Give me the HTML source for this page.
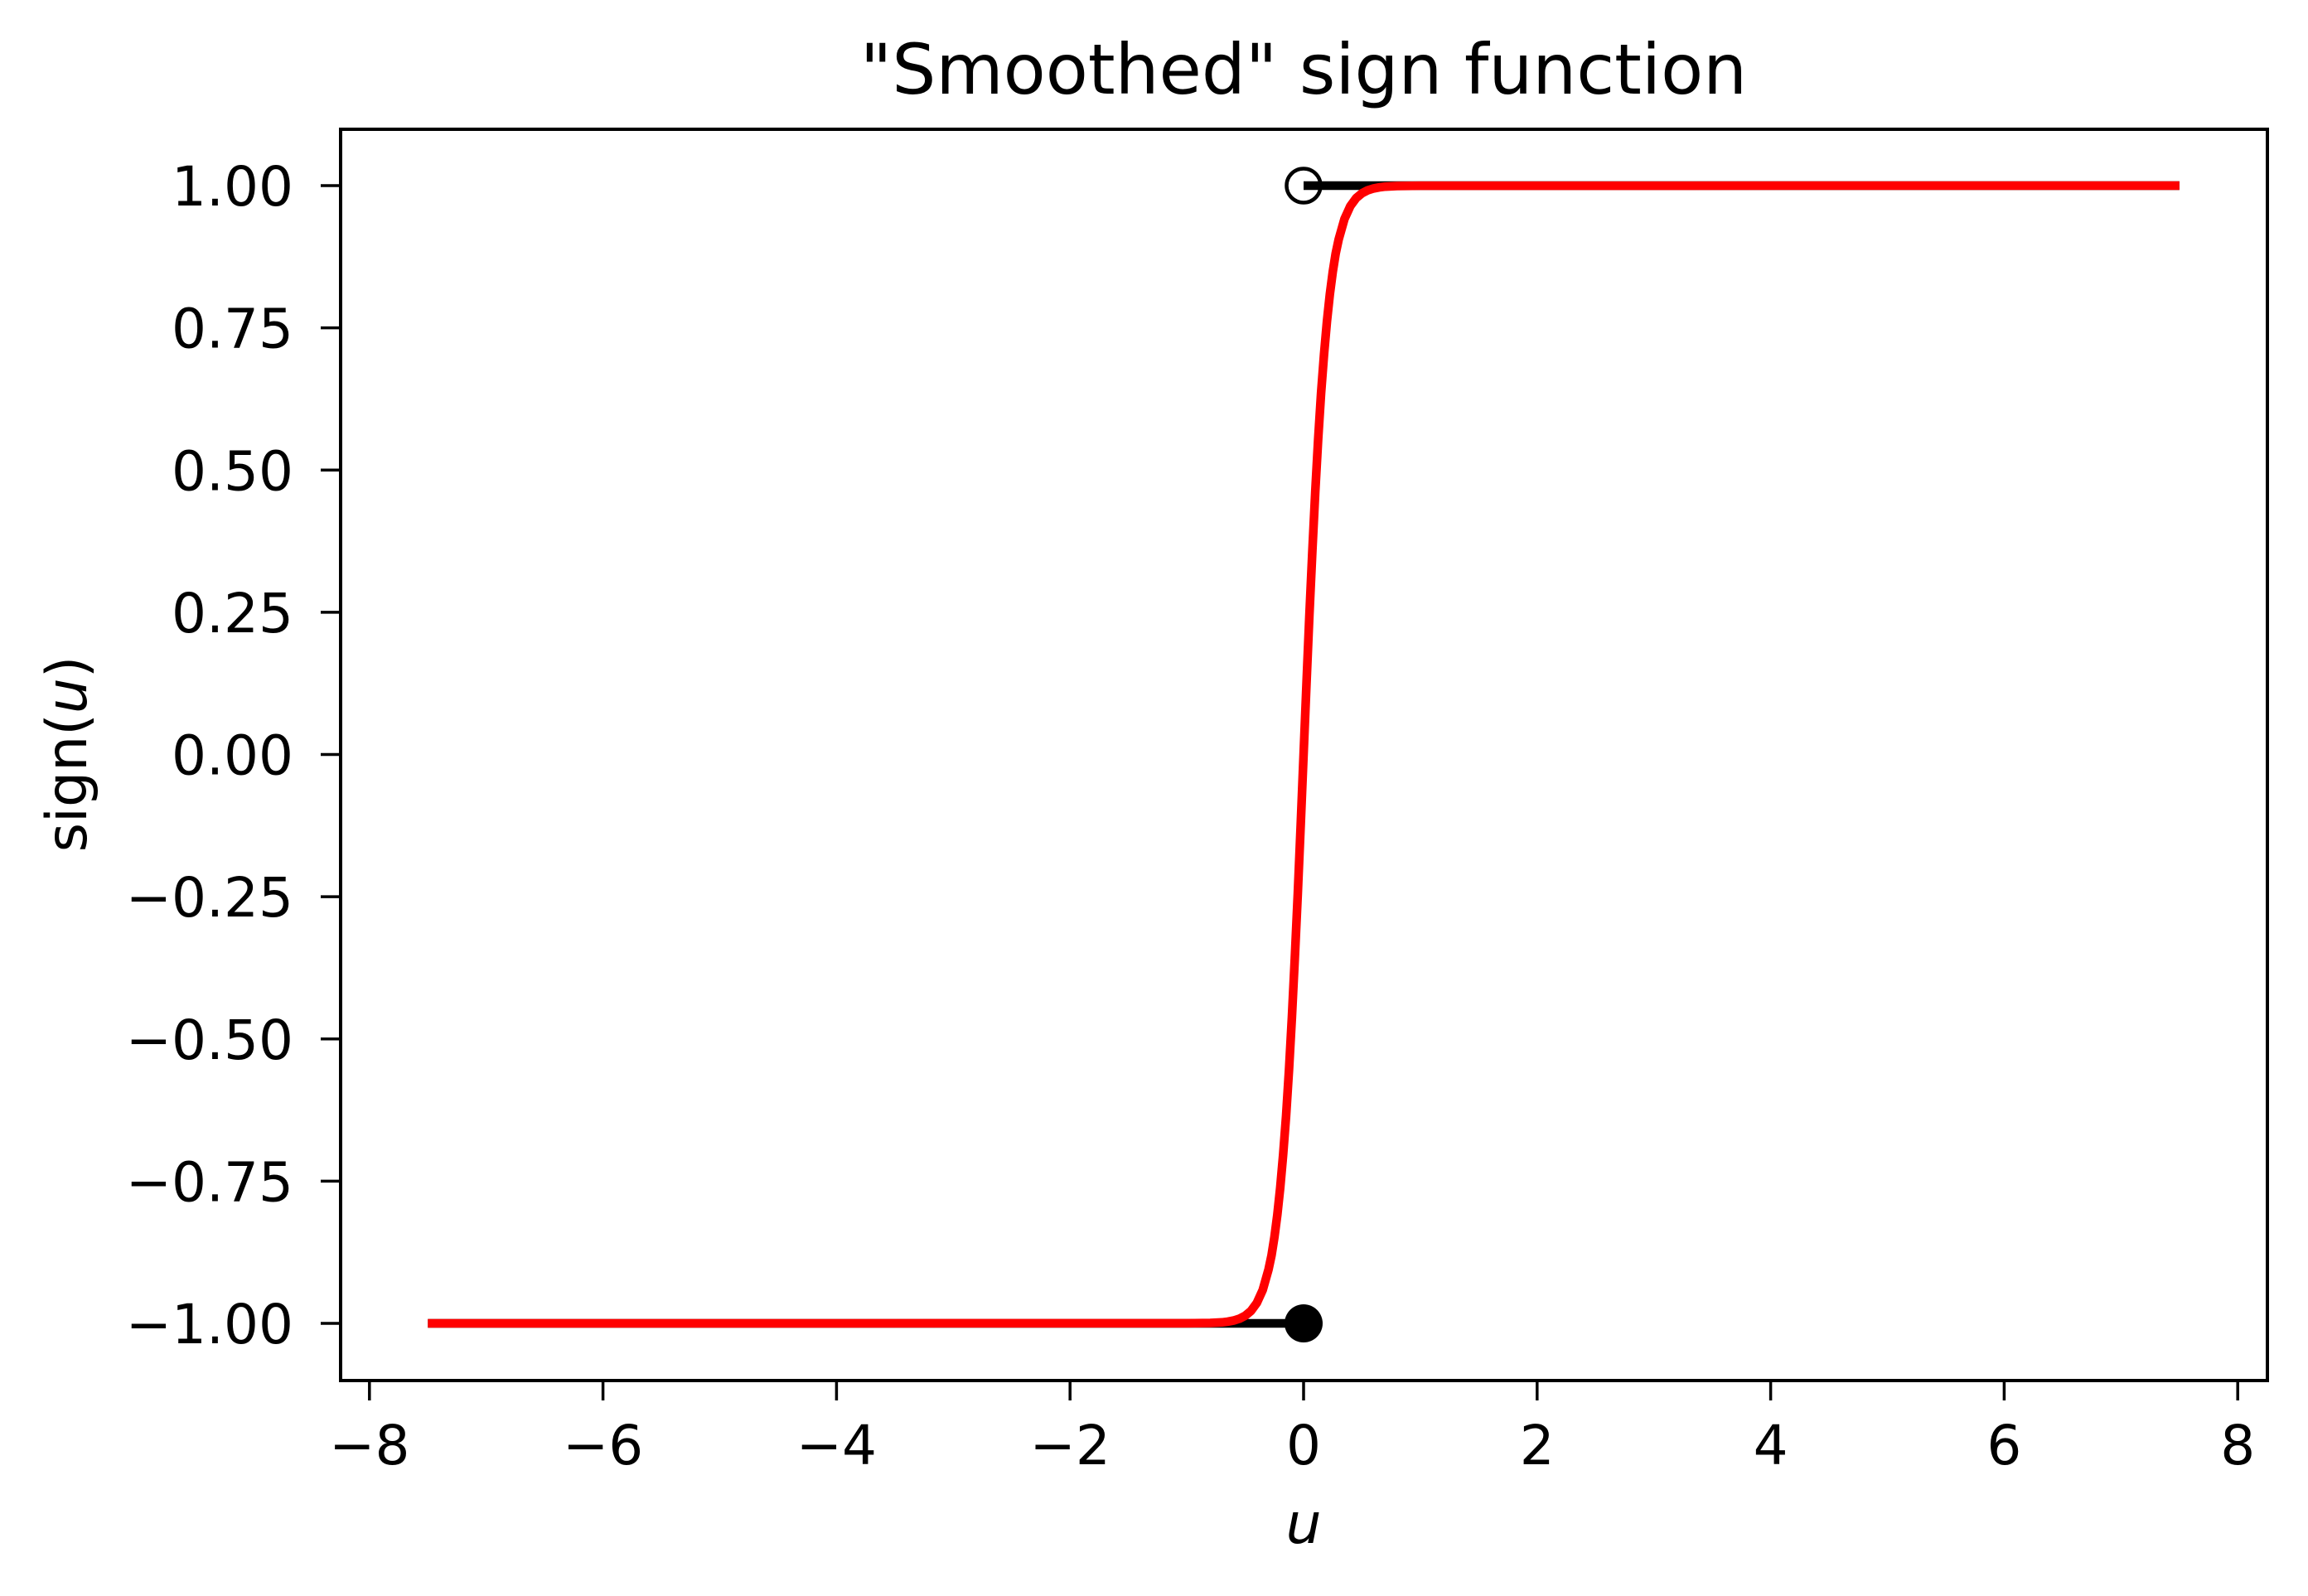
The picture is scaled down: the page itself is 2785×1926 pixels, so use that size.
<!DOCTYPE html>
<html><head><meta charset="utf-8"><style>
html,body{margin:0;padding:0;background:#fff;}
svg{display:block;font-family:"DejaVu Sans","Liberation Sans",sans-serif;}
</style></head><body>
<svg id="chart" width="2785" height="1926" viewBox="0 0 2785 1926" xmlns="http://www.w3.org/2000/svg">
<rect width="2785" height="1926" fill="#fff"/>
<text x="1573" y="113" font-size="83.5" text-anchor="middle">"Smoothed" sign function</text>
<g id="plot"></g>
<g id="xticks"></g>
<g id="yticks"></g>
<text x="1573" y="1862" font-size="68" font-style="italic" text-anchor="middle">u</text>
<text transform="translate(104,910) rotate(-90)" font-size="68" text-anchor="middle">sign(<tspan font-style="italic">u</tspan>)</text>
<rect x="411" y="156" width="2325" height="1510" fill="none" stroke="#000" stroke-width="4"/>
</svg>
<script>
const xTicks = [-8,-6,-4,-2,0,2,4,6,8];
const yTicks = [1.00,0.75,0.50,0.25,0.00,-0.25,-0.50,-0.75,-1.00];
const stepLeftU = [-7.5, 0];
const stepLeftV = [-1, -1];
const stepRightU = [0, 7.5];
const stepRightV = [1, 1];
const smoothU = [-7.5,-1,-0.8,-0.7,-0.65,-0.6,-0.55,-0.5,-0.45,-0.4,-0.35,-0.3,-0.275,-0.25,-0.225,-0.2,-0.175,-0.15,-0.125,-0.1,-0.075,-0.05,-0.025,0,0.025,0.05,0.075,0.1,0.125,0.15,0.175,0.2,0.225,0.25,0.275,0.3,0.35,0.4,0.45,0.5,0.55,0.6,0.65,0.7,0.8,1,7.5];
const smoothV = [-1,-0.9999,-0.9993,-0.9982,-0.997,-0.9951,-0.9918,-0.9866,-0.978,-0.964,-0.9413,-0.9051,-0.8805,-0.8483,-0.8093,-0.7616,-0.7039,-0.6351,-0.5546,-0.4621,-0.3584,-0.2449,-0.1244,0,0.1244,0.2449,0.3584,0.4621,0.5546,0.6351,0.7039,0.7616,0.8093,0.8483,0.8805,0.9051,0.9413,0.964,0.978,0.9866,0.9918,0.9951,0.997,0.9982,0.9993,0.9999,1];
const NS = "http://www.w3.org/2000/svg";
const X = u => 1573 + u * 140.9;
const Y = v => 910.5 - v * 686.5;
function mk(tag, attrs, parent){const e=document.createElementNS(NS,tag);for(const k in attrs)e.setAttribute(k,attrs[k]);parent.appendChild(e);return e;}
const fmt = v => (v<0?"\u2212":"") + Math.abs(v).toFixed(2);
const xg=document.getElementById('xticks'), yg=document.getElementById('yticks'), pg=document.getElementById('plot');
xTicks.forEach(t=>{
  const l=mk('line',{x1:X(t),x2:X(t),y1:1666,y2:1690,stroke:'#000','stroke-width':3.5},xg);
  
  
  const tx=mk('text',{x:X(t),y:1767,'font-size':66,'text-anchor':'middle'},xg);
  tx.textContent=(t<0?"\u2212":"")+Math.abs(t);
  
  
});
yTicks.forEach(t=>{
  const l=mk('line',{x1:387,x2:411,y1:Y(t),y2:Y(t),stroke:'#000','stroke-width':3.5},yg);
  
  
  const tx=mk('text',{x:354,y:Y(t)+24,'font-size':66,'text-anchor':'end'},yg);
  tx.textContent=fmt(t);
  
  
});
const pts=(us,vs)=>us.map((u,i)=>X(u).toFixed(1)+','+Y(vs[i]).toFixed(1)).join(' ');
const s1=mk('polyline',{points:pts(stepLeftU,stepLeftV),fill:'none',stroke:'#000','stroke-width':10.5},pg);


const s2=mk('polyline',{points:pts(stepRightU,stepRightV),fill:'none',stroke:'#000','stroke-width':10.5},pg);


const c1=mk('circle',{cx:X(0),cy:Y(-1),r:23,fill:'#000'},pg);


const c2=mk('circle',{cx:X(0),cy:Y(1),r:20.5,fill:'none',stroke:'#000','stroke-width':4.5},pg);


const sm=mk('polyline',{points:pts(smoothU,smoothV),fill:'none',stroke:'#ff0000','stroke-width':10.5,'stroke-linejoin':'round'},pg);


</script>
</body></html>
